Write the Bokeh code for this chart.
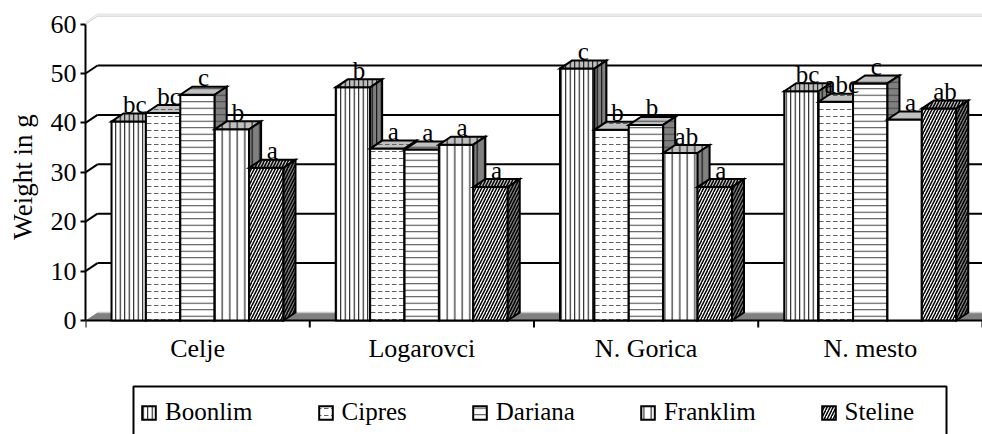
from bokeh.plotting import figure
from bokeh.models import Range1d, Legend, LegendItem, ColumnDataSource, FixedTicker
from bokeh.embed import file_html
from bokeh.resources import INLINE
from bokeh.core.properties import value

# ---------------- data ----------------
categories = ["Celje", "Logarovci", "N. Gorica", "N. mesto"]
series = ["Boonlim", "Cipres", "Dariana", "Franklim", "Steline"]
boonlim = [40.3, 47.2, 51.0, 46.4]
cipres = [42.0, 34.8, 38.6, 44.3]
dariana = [45.7, 34.6, 39.6, 48.0]
franklim = [38.7, 35.6, 33.9, 40.7]
steline = [30.9, 27.0, 27.0, 42.9]
letters_boonlim = ["bc", "b", "c", "bc"]
letters_cipres = ["bc", "a", "b", "abc"]
letters_dariana = ["c", "a", "b", "c"]
letters_franklim = ["b", "a", "ab", "a"]
letters_steline = ["a", "a", "a", "ab"]
y_ticks = [0, 10, 20, 30, 40, 50, 60]
y_title = "Weight in g"

values = [boonlim, cipres, dariana, franklim, steline]
letters = [letters_boonlim, letters_cipres, letters_dariana, letters_franklim, letters_steline]

# ---------------- styles ----------------
FONT = "Liberation Serif"
patterns = ["vertical_line", "horizontal_dash", "horizontal_line", "vertical_line", "right_diagonal_line"]
hscales = [4.5, 7, 6.5, 7.5, 6]
hweights = [1, 1, 1, 1, 1.5]
hcolors = ["black", "#606060", "#404040", "black", "black"]

PX_X = 224.25   # px per category
PX_Y = 4.94     # px per unit of weight
DX = 12 / PX_X  # depth offset
DY = 8 / PX_Y
BAR_W = 34.4 / PX_X
GAP_L = 26 / PX_X

W, H = 982, 434
LEFT = 85
x_end = (W - LEFT) / PX_X
y_start = -(H - 320) / PX_Y
y_end = 320 / PX_Y

p = figure(width=W, height=H, output_backend="svg", toolbar_location=None,
           x_range=Range1d(0, x_end), y_range=Range1d(y_start, y_end),
           x_axis_location=None, min_border_left=LEFT, min_border_right=0,
           min_border_top=0, min_border_bottom=0)
p.outline_line_color = None
p.xgrid.visible = False
p.ygrid.visible = False

# y axis
ax = p.yaxis[0]
ax.ticker = FixedTicker(ticks=y_ticks)
ax.bounds = (0, 60)
ax.axis_line_width = 2
ax.major_tick_line_width = 2
ax.major_tick_out = 5
ax.major_tick_in = 0
ax.minor_tick_line_color = None
ax.major_label_standoff = 4
ax.major_label_text_font = FONT
ax.major_label_text_font_size = "26px"
ax.major_label_text_color = "black"
# the axis title is centred on the frame; non-breaking spaces lift it to the centre of the 0-60 axis
ax.axis_label = "\u00a0" * 12 + y_title
ax.axis_label_text_font = FONT
ax.axis_label_text_font_size = "27px"
ax.axis_label_text_font_style = "normal"
ax.axis_label_text_color = "black"
ax.axis_label_standoff = 10

# floor
xf = x_end + 1
p.patch([0, xf, xf + DX, DX], [0, 0, DY, DY], fill_color="#808080", line_color=None)
p.line([DX, xf + DX], [DY, DY], line_color="#c8c8c8", line_width=1.5)

# back wall grid lines + side diagonals
grid_vals = [t for t in y_ticks if 0 < t < 60]
p.segment(x0=[DX] * len(grid_vals), y0=[g + DY for g in grid_vals],
          x1=[xf] * len(grid_vals), y1=[g + DY for g in grid_vals],
          line_color="black", line_width=2)
p.segment(x0=[0] * len(grid_vals), y0=grid_vals,
          x1=[DX] * len(grid_vals), y1=[g + DY for g in grid_vals],
          line_color="black", line_width=2)
top = y_ticks[-1]
p.line([0, DX, xf], [top, top + DY, top + DY], line_color="#c8c8c8", line_width=1)
p.line([0, DX, xf], [top + 0.4, top + DY + 0.4, top + DY + 0.4], line_color="#dcdcdc", line_width=1)

# x axis line and category ticks
p.line([0, xf], [0, 0], line_color="black", line_width=2)
ncat = len(categories)
p.segment(x0=list(range(ncat + 1)), y0=[0] * (ncat + 1), x1=list(range(ncat + 1)),
          y1=[-7 / PX_Y] * (ncat + 1), line_color="black", line_width=2)

# 3D bars as polygons in painter's order
xs, ys, fills, pats, hsc, hw, hc = [], [], [], [], [], [], []
legend_idx = {}
lab_x, lab_y, lab_t = [], [], []
for c in range(ncat):
    for s in range(len(series)):
        v = values[s][c]
        x0 = c + GAP_L + s * BAR_W
        x1 = x0 + BAR_W
        pat = patterns[s]
        if series[s] == "Franklim" and categories[c] == "N. mesto":
            pat = "blank"
        faces = [
            ([x0, x1, x1, x0], [0, 0, v, v], "white"),
            ([x0, x1, x1 + DX, x0 + DX], [v, v, v + DY, v + DY], "#c0c0c0"),
            ([x1, x1 + DX, x1 + DX, x1], [0, DY, v + DY, v], "#808080"),
        ]
        for k, (fx, fy, fc) in enumerate(faces):
            if k == 0 and c == 0:
                legend_idx[series[s]] = len(xs)
            xs.append(fx); ys.append(fy); fills.append(fc)
            pats.append(pat); hsc.append(hscales[s]); hw.append(hweights[s]); hc.append(hcolors[s])
        lab_x.append((x0 + x1) / 2 + DX / 2)
        lab_y.append(v + DY + 1.8)
        lab_t.append(letters[s][c])

src = ColumnDataSource(dict(xs=xs, ys=ys, fill=fills, pat=pats, hsc=hsc, hw=hw, hc=hc))
bars = p.patches("xs", "ys", source=src, fill_color="fill", line_color="black",
                 line_width=2, line_join="miter", hatch_pattern="pat", hatch_scale="hsc",
                 hatch_weight="hw", hatch_color="hc")

# significance letters
p.text(x=lab_x, y=lab_y, text=lab_t, text_align="center", text_baseline="alphabetic",
       text_font=value(FONT), text_font_size="25px", text_color="black")

# category labels
p.text(x=[i + 0.5 for i in range(ncat)], y=[-(348 - 320) / PX_Y] * ncat, text=categories,
       text_align="center", text_baseline="middle", text_font=value(FONT),
       text_font_size="26px", text_color="black")

# legend frame
p.quad(left=[(133 - LEFT) / PX_X], right=[(946 - LEFT) / PX_X], top=[(320 - 386) / PX_Y],
       bottom=[y_start - 5], fill_color="white", line_color="black", line_width=2)

legend = Legend(items=[LegendItem(label=s, renderers=[bars], index=legend_idx[s]) for s in series],
                orientation="horizontal", location=(55, 3), margin=0, padding=6,
                spacing=64, glyph_width=17, glyph_height=17, label_standoff=8, label_height=38,
                label_text_font=FONT, label_text_font_size="25px", label_text_color="black",
                border_line_color=None, background_fill_alpha=0)
p.add_layout(legend)

open("out.html", "w").write(file_html(p, INLINE))
